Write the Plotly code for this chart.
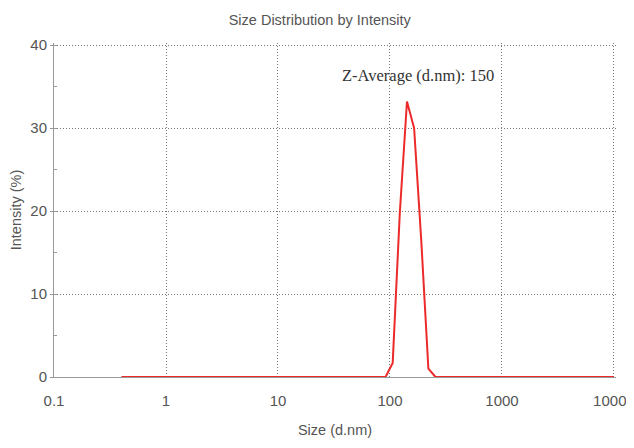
import plotly.graph_objects as go

# Size classes (d.nm) and intensity (%)
sizes = [0.4, 0.4632, 0.5365, 0.6213, 0.7195, 0.8332, 0.9649, 1.117, 1.294, 1.499,
         1.736, 2.01, 2.328, 2.696, 3.122, 3.615, 4.187, 4.849, 5.615, 6.503,
         7.531, 8.721, 10.10, 11.70, 13.54, 15.69, 18.17, 21.04, 24.36, 28.21,
         32.67, 37.84, 43.82, 50.75, 58.77, 68.06, 78.82, 91.28, 105.7, 122.4,
         141.8, 164.2, 190.1, 220.2, 255.0, 295.3, 342.0, 396.1, 458.7, 531.2,
         615.1, 712.4, 825.0, 955.4, 1106, 1281, 1484, 1718, 1990, 2305,
         2669, 3091, 3580, 4145, 4801, 5560, 6439, 7456, 8635, 10000]
peak_sizes = [91.28, 105.7, 122.4, 141.8, 164.2, 190.1, 220.2, 255.0]
peak_values = [0.0, 1.7, 19.8, 33.2, 30.0, 16.5, 1.0, 0.0]
intensity = [peak_values[peak_sizes.index(s)] if s in peak_sizes else 0.0 for s in sizes]

x_ticks = [0.1, 1, 10, 100, 1000, 10000]
x_tick_labels = ["0.1", "1", "10", "100", "1000", "10000"]
y_ticks = [0, 10, 20, 30, 40]

title_text = "Size Distribution by Intensity"
annotation_text = "Z-Average (d.nm): 150"

fig = go.Figure()
fig.add_trace(go.Scatter(x=sizes, y=intensity, mode="lines",
                         line=dict(color="#ec2a2a", width=2), showlegend=False))

# the page has an 8px body margin, so the figure is sized to end at the window edge
fig.update_layout(
    width=626, height=440,
    margin=dict(l=46, r=18, t=35, b=71, autoexpand=False),
    paper_bgcolor="white", plot_bgcolor="white",
    font=dict(family="Liberation Sans Narrow, Arial Narrow, Liberation Sans, sans-serif", color="#555555", size=15),
    title=dict(text=title_text, x=0.498, xanchor="center", y=0.972, yanchor="middle",
               font=dict(size=14.5, color="#555555")),
    annotations=[dict(text=annotation_text, x=2.25, y=35.0, xref="x", yref="y",
                      showarrow=False, xanchor="center", yanchor="bottom",
                      font=dict(family="Liberation Serif, Times New Roman, serif", size=16.5, color="#333333"))],
)
# ranges padded by ~2px so the gridlines at 40 and 10000 are drawn
fig.update_xaxes(type="log", range=[-1, 4.018], tickvals=x_ticks, ticktext=x_tick_labels,
                 showgrid=True, gridcolor="#777777", griddash="1px,2px", gridwidth=1,
                 showline=True, linecolor="#999999", linewidth=1,
                 ticks="", zeroline=False, automargin=False, ticklabelstandoff=10,
                 ticklabeloverflow="allow",
                 tickfont=dict(size=15, color="#555555"),
                 title=dict(text="Size (d.nm)", standoff=16, font=dict(size=14.5, color="#555555")))
fig.update_yaxes(range=[0, 40.25], tickvals=y_ticks,
                 showgrid=True, gridcolor="#777777", griddash="1px,2px", gridwidth=1,
                 showline=True, linecolor="#999999", linewidth=1,
                 ticks="outside", ticklen=3, tickcolor="#999999",
                 minor=dict(dtick=5, ticks="inside", ticklen=3, tickcolor="#999999", showgrid=False),
                 zeroline=False, automargin=False,
                 tickfont=dict(size=15, color="#555555"),
                 title=dict(text="Intensity (%)", standoff=5, font=dict(size=14.5, color="#555555")))

fig.write_html("out.html")
